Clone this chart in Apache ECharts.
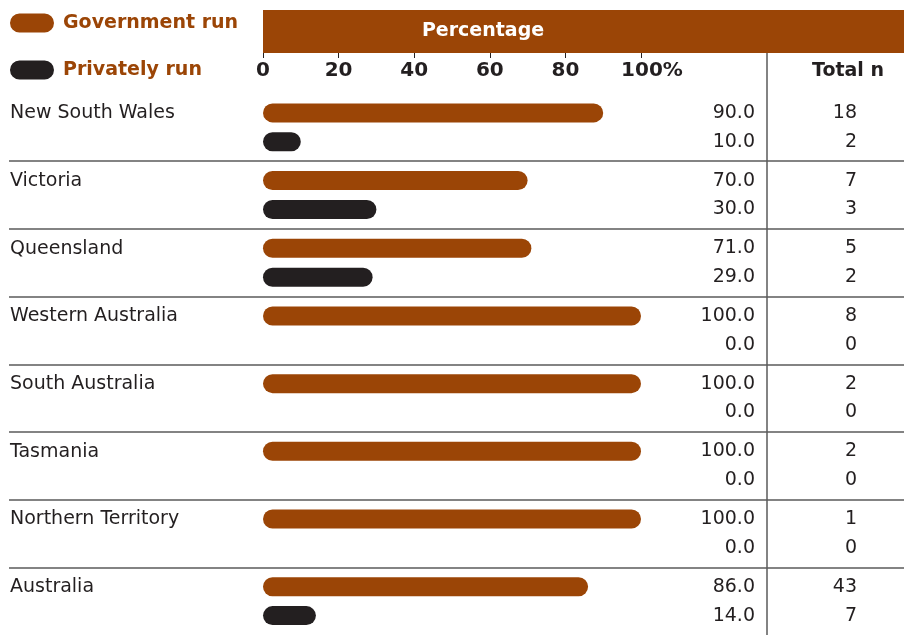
<!DOCTYPE html>
<html><head><meta charset="utf-8">
<script src="https://cdn.jsdelivr.net/npm/echarts@6/dist/echarts.min.js"></script>
<style>html,body{margin:0;padding:0;background:#fff}#c{width:904px;height:635px}</style>
</head><body><div id="c"></div>
<script>
const categories = ['New South Wales','Victoria','Queensland','Western Australia','South Australia','Tasmania','Northern Territory','Australia'];
const govPct = [90.0,70.0,71.0,100.0,100.0,100.0,100.0,86.0];
const privPct = [10.0,30.0,29.0,0.0,0.0,0.0,0.0,14.0];
const govN = [18,7,5,8,2,2,1,43];
const privN = [2,3,2,0,0,0,0,7];
const xTicks = [0,20,40,60,80,100];

const ORANGE = '#9b4506';
const DARK = '#231f20';
const FONT = 'DejaVu Sans';
const pill = 'path://M9,0 H33 A9,9 0 0 1 33,18 H9 A9,9 0 0 1 9,0 Z';

const chart = echarts.init(document.getElementById('c'));
function colLabel(nArr) {
  return {
    show: true,
    position: [392, '50%'],
    align: 'left',
    verticalAlign: 'middle',
    formatter: p => '{v|' + p.value.toFixed(1) + '}{n|' + nArr[p.dataIndex] + '}',
    rich: {
      v: {width: 100, align: 'right', fontSize: 19, color: DARK, fontFamily: FONT},
      n: {width: 102, align: 'right', fontSize: 19, color: DARK, fontFamily: FONT}
    }
  };
}
chart.setOption({
  animation: false,
  textStyle: {fontFamily: FONT},
  legend: {
    orient: 'vertical', left: 10, top: 12, padding: 0, itemWidth: 44, itemHeight: 19, itemGap: 25,
    icon: pill,
    textStyle: {color: ORANGE, fontWeight: 'bold', fontSize: 19, lineHeight: 19, fontFamily: FONT, padding: [3,0,0,4]},
    data: ['Government run', 'Privately run']
  },
  grid: {left: 9, right: 0, top: 93.5, height: 545.6},
  xAxis: {
    type: 'value', position: 'top', offset: 40.5,
    min: -(263 - 9) / 3.78, max: (904 - 263) / 3.78,
    splitLine: {show: false},
    axisLine: {show: false},
    axisTick: {show: true, inside: true, length: 5, customValues: xTicks, lineStyle: {color: DARK, width: 1}},
    axisLabel: {
      inside: true, margin: 8, customValues: xTicks,
      color: DARK, fontWeight: 'bold', fontSize: 20, fontFamily: FONT,
      formatter: v => v === 100 ? '{p|100%}' : String(v),
      rich: {p: {padding: [0,0,0,22], color: DARK, fontWeight: 'bold', fontSize: 20, fontFamily: FONT}}
    }
  },
  yAxis: {
    type: 'category', data: categories, inverse: true,
    axisLine: {show: false}, axisTick: {show: false},
    splitLine: {show: true, showMinLine: false, showMaxLine: false, lineStyle: {color: '#5a5a5a', width: 1.5}},
    axisLabel: {
      inside: true, margin: 1, align: 'left',
      formatter: v => '{c|' + v + '}',
      rich: {c: {color: DARK, fontSize: 19, fontFamily: FONT, padding: [0,0,28,0]}}
    }
  },
  series: [
    {name: 'Government run', type: 'bar', data: govPct, barWidth: 19, barGap: '52%',
     itemStyle: {color: ORANGE, borderRadius: 9.5}, label: colLabel(govN)},
    {name: 'Privately run', type: 'bar', data: privPct, barWidth: 19,
     itemStyle: {color: DARK, borderRadius: 9.5}, label: colLabel(privN)}
  ],
  graphic: [
    {type: 'rect', z: -1, shape: {x: 263, y: 10, width: 641, height: 43}, style: {fill: ORANGE}},
    {type: 'text', style: {x: 483, y: 31, text: 'Percentage', fill: '#fff', font: 'bold 19px "' + FONT + '"', textAlign: 'center', textVerticalAlign: 'middle'}},
    {type: 'text', style: {x: 848, y: 71, text: 'Total n', fill: DARK, font: 'bold 19px "' + FONT + '"', textAlign: 'center', textVerticalAlign: 'middle'}},
    {type: 'line', shape: {x1: 767, y1: 53, x2: 767, y2: 635}, style: {stroke: '#5a5a5a', lineWidth: 1.5}}
  ]
});
</script></body></html>
